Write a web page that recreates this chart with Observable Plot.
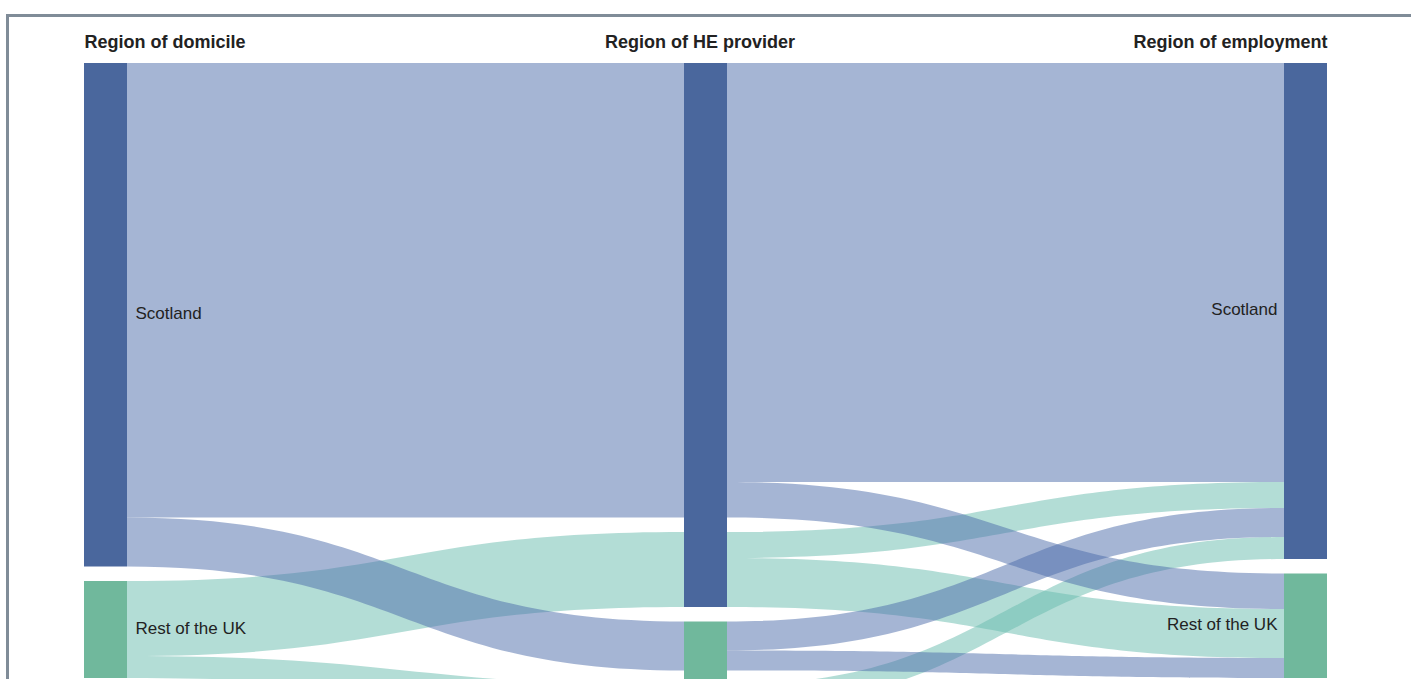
<!DOCTYPE html>
<html>
<head>
<meta charset="utf-8">
<script src="https://cdn.jsdelivr.net/npm/d3@7"></script>
<script src="https://cdn.jsdelivr.net/npm/@observablehq/plot@0.6"></script>
<style>
  html, body { margin: 0; padding: 0; overflow: hidden; background: #fff; width: 1411px; height: 679px; }
  #frame { position: absolute; left: 6px; top: 14px; width: 1500px; height: 900px; border: 3px solid #808c98; box-sizing: border-box; }
  #chart { position: absolute; left: 0; top: 0; }
  #chart svg { display: block; }
</style>
</head>
<body>
<div id="frame"></div>
<div id="chart"></div>
<script>
// ---- Data ----
const columnTitles = ["Region of domicile", "Region of HE provider", "Region of employment"];
const regions = ["Scotland", "Rest of the UK"];
// graduate paths: domicile -> HE provider -> employment
const flowDomicile   = ["Scotland", "Scotland", "Scotland", "Scotland", "Rest of the UK", "Rest of the UK", "Rest of the UK"];
const flowProvider   = ["Scotland", "Scotland", "Rest of the UK", "Rest of the UK", "Scotland", "Scotland", "Rest of the UK"];
const flowEmployment = ["Scotland", "Rest of the UK", "Scotland", "Rest of the UK", "Scotland", "Rest of the UK", "Scotland"];
const flowGraduates  = [20950, 1775, 1450, 1000, 1300, 2450, 1100];

// ---- Styling ----
const nodeColor = {"Scotland": "#4a679d", "Rest of the UK": "#70b89c"};
const linkColor = {"Scotland": "#4b6ba9", "Rest of the UK": "#67bbad"};
const unitsPerPx = 50;
const pad = 14.5 * unitsPerPx;
const nodeW = 43 / 600; // in column units
const font = "'Liberation Sans', Arial, sans-serif";

// ---- Layout (computed from data) ----
const flows = flowGraduates.map((v, i) => ({dom: flowDomicile[i], prov: flowProvider[i], emp: flowEmployment[i], v}));
const sum = (f) => d3.sum(flows.filter(f), d => d.v);
const nodes = [];
const linkRows = [];

// left column
let y = 0;
const leftOut = {};
for (const r of regions) {
  const h = sum(d => d.dom === r);
  if (!h) continue;
  nodes.push({col: 0, name: r, y1: y, y2: y + h, label: "start"});
  let o = y;
  for (const p of regions) {
    const v = sum(d => d.dom === r && d.prov === p);
    if (v) { leftOut[r + "|" + p] = [o, o + v]; o += v; }
  }
  y += h + pad;
}
// middle column (segmented by domicile)
y = 0;
const midSeg = {};
for (const p of regions) {
  const top = y;
  let first = true;
  for (const r of regions) {
    const v = sum(d => d.prov === p && d.dom === r);
    if (!v) continue;
    if (!first) y += pad;
    first = false;
    midSeg[r + "|" + p] = [y, y + v];
    y += v;
  }
  nodes.push({col: 1, name: p, y1: top, y2: y, label: null});
  y += pad;
}
// right column
y = 0;
const rightIn = {};
for (const e of regions) {
  const h = sum(d => d.emp === e);
  if (!h) continue;
  nodes.push({col: 2, name: e, y1: y, y2: y + h, label: "end"});
  let o = y;
  for (const p of regions) for (const r of regions) {
    const v = sum(d => d.emp === e && d.prov === p && d.dom === r);
    if (v) { rightIn[r + "|" + p + "|" + e] = [o, o + v]; o += v; }
  }
  y += h + pad;
}
const yMax = d3.max(nodes, d => d.y2);

// links: domicile -> provider
for (const key in leftOut) {
  const [r, p] = key.split("|");
  const a = leftOut[key], b = midSeg[key];
  linkRows.push({id: "L" + key, dom: r, x: 0 + nodeW, y1: a[0], y2: a[1]});
  linkRows.push({id: "L" + key, dom: r, x: 1, y1: b[0], y2: b[1]});
}
// links: provider -> employment (per domicile)
for (const key in midSeg) {
  const [r, p] = key.split("|");
  let o = midSeg[key][0];
  for (const e of regions) {
    const v = sum(d => d.dom === r && d.prov === p && d.emp === e);
    if (!v) continue;
    const b = rightIn[r + "|" + p + "|" + e];
    linkRows.push({id: "R" + key + e, dom: r, x: 1 + nodeW, y1: o, y2: o + v});
    linkRows.push({id: "R" + key + e, dom: r, x: 2, y1: b[0], y2: b[1]});
    o += v;
  }
}
// draw teal links first, blue on top
linkRows.sort((a, b) => regions.indexOf(b.dom) - regions.indexOf(a.dom));

const titles = columnTitles.map((t, i) => ({t, col: i}));
const labelled = nodes.filter(d => d.label);

const chart = Plot.plot({
  width: 1411,
  height: 720,
  margin: 0,
  style: {fontFamily: font, background: "transparent"},
  x: {type: "linear", domain: [0, 2], range: [84, 1284], axis: null},
  y: {type: "linear", domain: [0, yMax], range: [63, 63 + yMax / unitsPerPx], axis: null},
  color: {type: "identity"},
  marks: [
    Plot.areaY(linkRows, {x: "x", y1: "y1", y2: "y2", z: "id", fill: d => linkColor[d.dom], fillOpacity: 0.5, curve: "bump-x"}),
    Plot.rect(nodes, {x1: "col", x2: d => d.col + nodeW, y1: "y1", y2: "y2", fill: d => nodeColor[d.name]}),
    Plot.text(labelled.filter(d => d.label === "start"), {x: d => d.col + nodeW, y: d => (d.y1 + d.y2) / 2, text: "name", textAnchor: "start", dx: 8, dy: -1.5, fontSize: 17, fill: "#222", fontFamily: font}),
    Plot.text(labelled.filter(d => d.label === "end"), {x: "col", y: d => (d.y1 + d.y2) / 2, text: "name", textAnchor: "end", dx: -7, dy: -1.5, fontSize: 17, fill: "#222", fontFamily: font}),
    Plot.text(titles.filter(d => d.col === 0), {x: "col", text: "t", frameAnchor: "top", dy: 42, lineAnchor: "middle", textAnchor: "start", fontSize: 18, fontWeight: "bold", fill: "#222", fontFamily: font}),
    Plot.text(titles.filter(d => d.col === 1), {x: d => d.col + nodeW / 2, text: "t", frameAnchor: "top", dy: 42, dx: -6, lineAnchor: "middle", textAnchor: "middle", fontSize: 18, fontWeight: "bold", fill: "#222", fontFamily: font}),
    Plot.text(titles.filter(d => d.col === 2), {x: d => d.col + nodeW, text: "t", frameAnchor: "top", dy: 42, lineAnchor: "middle", textAnchor: "end", fontSize: 18, fontWeight: "bold", fill: "#222", fontFamily: font})
  ]
});
document.getElementById("chart").appendChild(chart);
</script>
</body>
</html>
